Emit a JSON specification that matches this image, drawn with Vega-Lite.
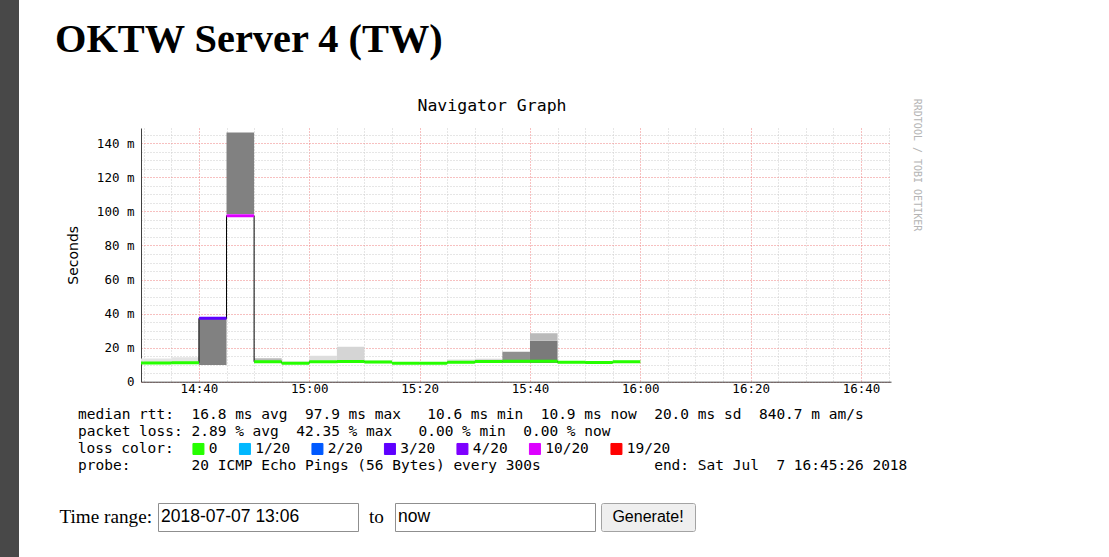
{
  "$schema": "https://vega.github.io/schema/vega-lite/v6.json",
  "background": "white",
  "padding": 0,
  "config": {"view": {"stroke": null}},
  "datasets": {
    "rtt": [
      {"t": "2018-07-07T14:25:00Z", "t_end": "2018-07-07T14:30:00Z", "median": 11.0, "loss": "0"},
      {"t": "2018-07-07T14:30:00Z", "t_end": "2018-07-07T14:35:00Z", "median": 11.0, "loss": "0"},
      {"t": "2018-07-07T14:35:00Z", "t_end": "2018-07-07T14:40:00Z", "median": 11.1, "loss": "0"},
      {"t": "2018-07-07T14:40:00Z", "t_end": "2018-07-07T14:45:00Z", "median": 37.2, "loss": "3/20"},
      {"t": "2018-07-07T14:45:00Z", "t_end": "2018-07-07T14:50:00Z", "median": 97.5, "loss": "10/20"},
      {"t": "2018-07-07T14:50:00Z", "t_end": "2018-07-07T14:55:00Z", "median": 11.7, "loss": "0"},
      {"t": "2018-07-07T14:55:00Z", "t_end": "2018-07-07T15:00:00Z", "median": 10.9, "loss": "0"},
      {"t": "2018-07-07T15:00:00Z", "t_end": "2018-07-07T15:05:00Z", "median": 11.7, "loss": "0"},
      {"t": "2018-07-07T15:05:00Z", "t_end": "2018-07-07T15:10:00Z", "median": 11.9, "loss": "0"},
      {"t": "2018-07-07T15:10:00Z", "t_end": "2018-07-07T15:15:00Z", "median": 11.6, "loss": "0"},
      {"t": "2018-07-07T15:15:00Z", "t_end": "2018-07-07T15:20:00Z", "median": 10.9, "loss": "0"},
      {"t": "2018-07-07T15:20:00Z", "t_end": "2018-07-07T15:25:00Z", "median": 10.8, "loss": "0"},
      {"t": "2018-07-07T15:25:00Z", "t_end": "2018-07-07T15:30:00Z", "median": 11.4, "loss": "0"},
      {"t": "2018-07-07T15:30:00Z", "t_end": "2018-07-07T15:35:00Z", "median": 11.8, "loss": "0"},
      {"t": "2018-07-07T15:35:00Z", "t_end": "2018-07-07T15:40:00Z", "median": 12.0, "loss": "0"},
      {"t": "2018-07-07T15:40:00Z", "t_end": "2018-07-07T15:45:00Z", "median": 12.0, "loss": "0"},
      {"t": "2018-07-07T15:45:00Z", "t_end": "2018-07-07T15:50:00Z", "median": 11.4, "loss": "0"},
      {"t": "2018-07-07T15:50:00Z", "t_end": "2018-07-07T15:55:00Z", "median": 11.3, "loss": "0"},
      {"t": "2018-07-07T15:55:00Z", "t_end": "2018-07-07T16:00:00Z", "median": 11.7, "loss": "0"}
    ],
    "smoke": [
      {"t": "2018-07-07T14:25:00Z", "t_end": "2018-07-07T14:30:00Z", "lo": 10.8, "hi": 13.6, "density": 0.18},
      {"t": "2018-07-07T14:30:00Z", "t_end": "2018-07-07T14:35:00Z", "lo": 10.8, "hi": 13.6, "density": 0.18},
      {"t": "2018-07-07T14:35:00Z", "t_end": "2018-07-07T14:40:00Z", "lo": 10.8, "hi": 14.4, "density": 0.18},
      {"t": "2018-07-07T14:40:00Z", "t_end": "2018-07-07T14:45:00Z", "lo": 9.8, "hi": 37.8, "density": 0.85},
      {"t": "2018-07-07T14:45:00Z", "t_end": "2018-07-07T14:50:00Z", "lo": 98.5, "hi": 146.4, "density": 0.85},
      {"t": "2018-07-07T14:50:00Z", "t_end": "2018-07-07T14:55:00Z", "lo": 11.0, "hi": 13.7, "density": 0.45},
      {"t": "2018-07-07T14:55:00Z", "t_end": "2018-07-07T15:00:00Z", "lo": 10.5, "hi": 11.8, "density": 0.2},
      {"t": "2018-07-07T15:00:00Z", "t_end": "2018-07-07T15:05:00Z", "lo": 11.0, "hi": 15.2, "density": 0.22},
      {"t": "2018-07-07T15:05:00Z", "t_end": "2018-07-07T15:10:00Z", "lo": 11.0, "hi": 20.5, "density": 0.27},
      {"t": "2018-07-07T15:10:00Z", "t_end": "2018-07-07T15:15:00Z", "lo": 10.8, "hi": 12.4, "density": 0.2},
      {"t": "2018-07-07T15:15:00Z", "t_end": "2018-07-07T15:20:00Z", "lo": 10.5, "hi": 11.6, "density": 0.15},
      {"t": "2018-07-07T15:20:00Z", "t_end": "2018-07-07T15:25:00Z", "lo": 10.5, "hi": 11.6, "density": 0.15},
      {"t": "2018-07-07T15:25:00Z", "t_end": "2018-07-07T15:30:00Z", "lo": 10.8, "hi": 13.1, "density": 0.2},
      {"t": "2018-07-07T15:30:00Z", "t_end": "2018-07-07T15:35:00Z", "lo": 11.0, "hi": 13.5, "density": 0.25},
      {"t": "2018-07-07T15:35:00Z", "t_end": "2018-07-07T15:40:00Z", "lo": 11.0, "hi": 17.6, "density": 0.75},
      {"t": "2018-07-07T15:40:00Z", "t_end": "2018-07-07T15:45:00Z", "lo": 11.0, "hi": 24.0, "density": 0.9},
      {"t": "2018-07-07T15:40:00Z", "t_end": "2018-07-07T15:45:00Z", "lo": 24.0, "hi": 28.4, "density": 0.45},
      {"t": "2018-07-07T15:45:00Z", "t_end": "2018-07-07T15:50:00Z", "lo": 10.8, "hi": 12.0, "density": 0.2},
      {"t": "2018-07-07T15:50:00Z", "t_end": "2018-07-07T15:55:00Z", "lo": 10.8, "hi": 12.0, "density": 0.2},
      {"t": "2018-07-07T15:55:00Z", "t_end": "2018-07-07T16:00:00Z", "lo": 11.0, "hi": 12.5, "density": 0.2}
    ],
    "lines": [
      {"line": 1, "text": "median\u00a0rtt:\u00a0\u00a016.8\u00a0ms\u00a0avg\u00a0\u00a097.9\u00a0ms\u00a0max\u00a0\u00a0\u00a010.6\u00a0ms\u00a0min\u00a0\u00a010.9\u00a0ms\u00a0now\u00a0\u00a020.0\u00a0ms\u00a0sd\u00a0\u00a0840.7\u00a0m\u00a0am/s"},
      {"line": 2, "text": "packet\u00a0loss:\u00a02.89\u00a0%\u00a0avg\u00a0\u00a042.35\u00a0%\u00a0max\u00a0\u00a0\u00a00.00\u00a0%\u00a0min\u00a0\u00a00.00\u00a0%\u00a0now"},
      {"line": 4, "text": "probe:\u00a0\u00a0\u00a0\u00a0\u00a0\u00a0\u00a020\u00a0ICMP\u00a0Echo\u00a0Pings\u00a0(56\u00a0Bytes)\u00a0every\u00a0300s\u00a0\u00a0\u00a0\u00a0\u00a0\u00a0\u00a0\u00a0\u00a0\u00a0\u00a0\u00a0\u00a0end:\u00a0Sat\u00a0Jul\u00a0\u00a07\u00a016:45:26\u00a02018"}
    ],
    "blank": [{"k": 1}]
  },
  "bounds": "flush",
  "spacing": 0,
  "hconcat": [
    {
      "width": 19,
      "height": 557,
      "view": {"fill": "#484848", "stroke": null},
      "data": {"name": "blank"},
      "mark": {"type": "point", "opacity": 0, "size": 0, "strokeWidth": 0}
    },
    {"width": 36, "height": 1, "data": {"name": "blank"}, "mark": {"type": "point", "opacity": 0, "size": 0, "strokeWidth": 0}},
    {
      "bounds": "flush",
      "spacing": 0,
      "vconcat": [
        {
          "width": 450,
          "height": 104,
          "data": {"values": [{"heading": "OKTW Server 4 (TW)"}]},
          "mark": {"type": "text", "font": "Liberation Serif", "fontSize": 40.4, "fontWeight": "bold", "align": "left", "baseline": "alphabetic", "color": "#000"},
          "encoding": {
            "x": {"datum": 0, "type": "quantitative", "scale": {"domain": [0, 1]}, "axis": null},
            "text": {"field": "heading"}
          }
        },
        {"width": 1, "height": 399, "data": {"name": "blank"}, "mark": {"type": "point", "opacity": 0, "size": 0, "strokeWidth": 0}},
        {
          "bounds": "flush",
          "spacing": 6,
          "hconcat": [
            {
              "width": 97, "height": 28,
              "data": {"values": [{"label": "Time range:"}]},
              "mark": {"type": "text", "font": "Liberation Serif", "fontSize": 19.2, "align": "right", "baseline": "middle", "color": "#000"},
              "encoding": {"x": {"datum": 1, "type": "quantitative", "scale": {"domain": [0, 1]}, "axis": null}, "text": {"field": "label"}}
            },
            {
              "width": 200, "height": 28,
              "view": {"stroke": "#8f8f8f", "fill": "#ffffff"},
              "data": {"values": [{"value": "2018-07-07 13:06"}]},
              "mark": {"type": "text", "font": "Liberation Sans", "fontSize": 17.5, "align": "left", "dx": 3, "baseline": "middle", "color": "#000"},
              "encoding": {"x": {"datum": 0, "type": "quantitative", "scale": {"domain": [0, 1]}, "axis": null}, "text": {"field": "value"}}
            },
            {
              "width": 25, "height": 28,
              "data": {"values": [{"label": "to"}]},
              "mark": {"type": "text", "font": "Liberation Serif", "fontSize": 19.2, "baseline": "middle", "color": "#000"},
              "encoding": {"text": {"field": "label"}}
            },
            {
              "width": 200, "height": 28,
              "view": {"stroke": "#8f8f8f", "fill": "#ffffff"},
              "data": {"values": [{"value": "now"}]},
              "mark": {"type": "text", "font": "Liberation Sans", "fontSize": 17.5, "align": "left", "dx": 3, "baseline": "middle", "color": "#000"},
              "encoding": {"x": {"datum": 0, "type": "quantitative", "scale": {"domain": [0, 1]}, "axis": null}, "text": {"field": "value"}}
            },
            {
              "width": 94, "height": 28,
              "view": {"stroke": "#a3a3a3", "fill": "#efefef", "cornerRadius": 2},
              "data": {"values": [{"label": "Generate!"}]},
              "mark": {"type": "text", "font": "Liberation Sans", "fontSize": 16, "baseline": "middle", "color": "#000"},
              "encoding": {"text": {"field": "label"}}
            }
          ]
        }
      ]
    },
    {"width": 22.7, "height": 1, "data": {"name": "blank"}, "mark": {"type": "point", "opacity": 0, "size": 0, "strokeWidth": 0}},
    {
      "bounds": "flush",
      "spacing": 0,
      "vconcat": [
        {"width": 1, "height": 402.3, "data": {"name": "blank"}, "mark": {"type": "point", "opacity": 0, "size": 0, "strokeWidth": 0}},
        {
          "width": 850,
          "height": 79.3,
          "data": {"name": "lines"},
          "mark": {"type": "text", "font": "DejaVu Sans Mono", "fontSize": 14.5, "align": "left", "baseline": "alphabetic", "color": "#000"},
          "encoding": {
            "x": {"datum": 0, "type": "quantitative", "scale": {"domain": [0, 1]}, "axis": null},
            "y": {"field": "line", "type": "quantitative", "scale": {"domain": [0.0824, 4.747], "reverse": true, "nice": false, "zero": false}, "axis": null},
            "text": {"field": "text"}
          }
        }
      ]
    },
    {"width": 63, "height": 1, "data": {"name": "blank"}, "mark": {"type": "point", "opacity": 0, "size": 0, "strokeWidth": 0}},
    {
      "bounds": "flush",
      "spacing": 0,
      "vconcat": [
        {"width": 1, "height": 128, "data": {"name": "blank"}, "mark": {"type": "point", "opacity": 0, "size": 0, "strokeWidth": 0}},
        {
          "width": 750,
          "height": 253.7,
          "title": {"text": "Navigator Graph", "font": "DejaVu Sans Mono", "fontSize": 16.5, "fontWeight": "normal", "color": "#000", "anchor": "middle", "dx": -24, "offset": 13.5},
          "layer": [
            {
              "data": {"name": "smoke"},
              "mark": {"type": "rect", "clip": true},
              "encoding": {
                "x": {"field": "t", "type": "temporal",
                  "scale": {"type": "utc", "domain": [{"year": 2018, "month": 7, "date": 7, "hours": 14, "minutes": 29, "seconds": 30, "utc": true}, {"year": 2018, "month": 7, "date": 7, "hours": 16, "minutes": 45, "seconds": 26, "utc": true}]},
                  "axis": {"title": null, "grid": true, "tickCount": 27, "gridDash": [1, 2], "gridWidth": 1,
                    "gridColor": {"condition": {"test": "utcminutes(datum.value) % 20 === 0", "value": "#ee8080"}, "value": "#cccccc"},
                    "labelExpr": "utcminutes(datum.value) % 20 === 0 ? utcFormat(datum.value, '%H:%M') : ''",
                    "labelOverlap": false, "labelFlush": false, "labelFont": "DejaVu Sans Mono", "labelFontSize": 12.5, "labelColor": "#000", "labelPadding": 1, "ticks": false, "domainColor": "#404040"}},
                "x2": {"field": "t_end"},
                "y": {"field": "lo", "type": "quantitative", "scale": {"domain": [0, 149], "nice": false},
                  "axis": {"title": "Seconds", "grid": true, "tickCount": 30, "gridDash": [1, 2], "gridWidth": 1,
                    "gridColor": {"condition": {"test": "datum.value % 20 === 0", "value": "#ee8080"}, "value": "#cccccc"},
                    "labelExpr": "datum.value % 20 === 0 ? (datum.value === 0 ? '0' : datum.value + ' m') : ''",
                    "labelOverlap": false, "labelFlush": false, "labelFont": "DejaVu Sans Mono", "labelFontSize": 12.5, "labelColor": "#000", "labelPadding": 7, "ticks": false, "domainColor": "#404040",
                    "titleFont": "DejaVu Sans", "titleFontSize": 14, "titleFontWeight": "normal", "titleColor": "#000", "titlePadding": 16}},
                "y2": {"field": "hi"},
                "fill": {"field": "density", "type": "quantitative", "scale": {"domain": [0, 1], "range": ["#ffffff", "#6c6c6c"]}, "legend": null}
              }
            },
            {
              "data": {"name": "rtt"},
              "mark": {"type": "line", "interpolate": "step-after", "color": "#000", "strokeWidth": 1, "clip": true},
              "encoding": {
                "x": {"field": "t", "type": "temporal", "title": null},
                "y": {"field": "median", "type": "quantitative", "title": "Seconds"}
              }
            },
            {
              "data": {"name": "rtt"},
              "mark": {"type": "rule", "strokeWidth": 3, "clip": true},
              "encoding": {
                "x": {"field": "t", "type": "temporal", "title": null},
                "x2": {"field": "t_end"},
                "y": {"field": "median", "type": "quantitative", "title": "Seconds"},
                "color": {"field": "loss", "type": "nominal",
                  "scale": {"domain": ["0", "1/20", "2/20", "3/20", "4/20", "10/20", "19/20"], "range": ["#26ff00", "#00b8ff", "#0059ff", "#5e00ff", "#7e00ff", "#dd00ff", "#ff0000"]},
                  "legend": {"orient": "none", "legendX": 77.7, "legendY": 441.6, "direction": "horizontal", "columns": 7, "title": "loss color:", "titleOrient": "left", "titleFont": "DejaVu Sans Mono", "titleFontSize": 14.5, "titleFontWeight": "normal", "titleColor": "#000", "titlePadding": 16.5, "symbolType": "square", "symbolSize": 121, "symbolStrokeColor": "#000", "symbolStrokeWidth": 1, "labelFont": "DejaVu Sans Mono", "labelFontSize": 14.5, "labelColor": "#000", "labelOffset": 3, "columnPadding": 18.5,
                    "encode": {"symbols": {"update": {"fill": {"scale": "color", "field": "value"}, "stroke": {"value": "#000000"}, "strokeWidth": {"value": 1}, "opacity": {"value": 1}}}}}}
              }
            }
          ]
        }
      ]
    },
    {"width": 756, "height": 1, "data": {"name": "blank"}, "mark": {"type": "point", "opacity": 0, "size": 0, "strokeWidth": 0}},
    {
      "bounds": "flush",
      "spacing": 0,
      "vconcat": [
        {"width": 1, "height": 128, "data": {"name": "blank"}, "mark": {"type": "point", "opacity": 0, "size": 0, "strokeWidth": 0}},
        {
          "width": 40,
          "height": 74,
          "data": {"values": [{"wm": "RRDTOOL / TOBI OETIKER"}]},
          "mark": {"type": "text", "font": "DejaVu Sans Mono", "fontSize": 10, "angle": 90, "align": "center", "baseline": "middle", "color": "#b4b4b4"},
          "encoding": {"text": {"field": "wm"}}
        }
      ]
    }
  ]
}
